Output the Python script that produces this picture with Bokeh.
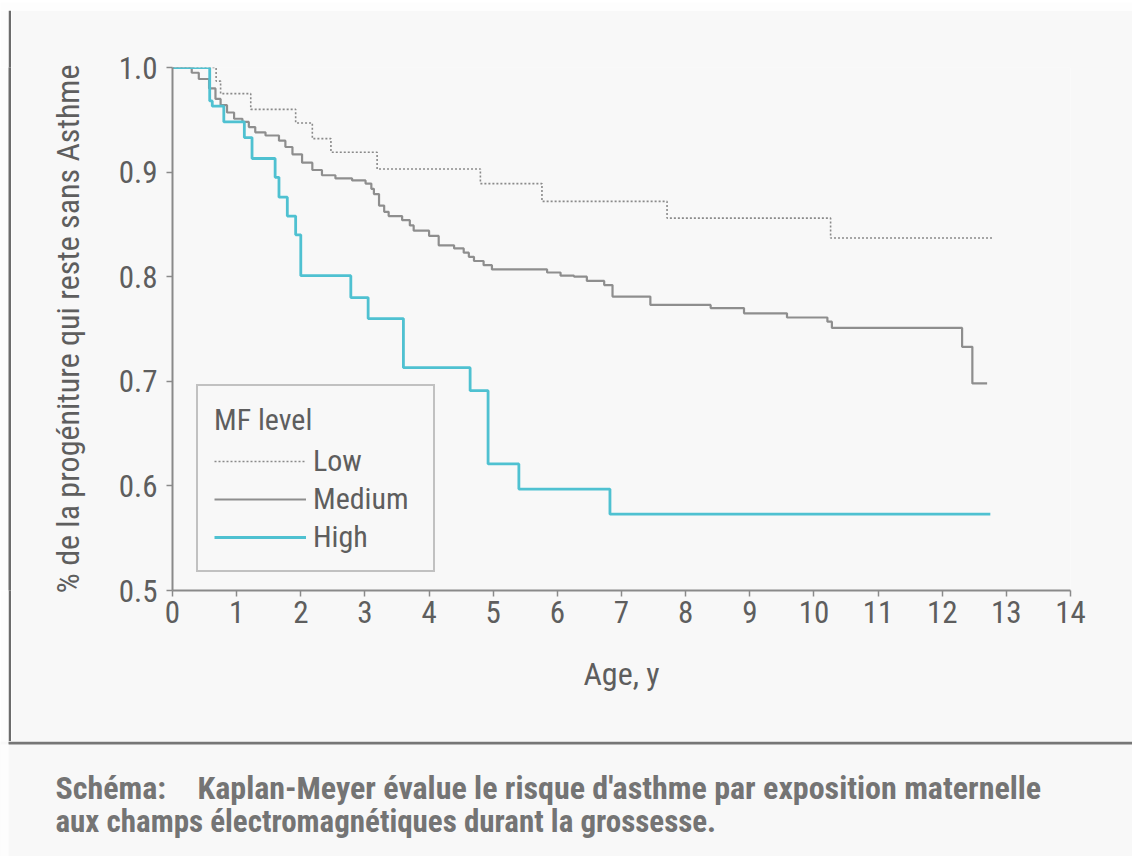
from bokeh.plotting import figure
from bokeh.layouts import column, row
from bokeh.models import (Legend, LegendItem, Label, Range1d, BoxAnnotation,
                          FixedTicker, NumeralTickFormatter)
from bokeh.embed import file_html
from bokeh.resources import INLINE

# ---------------- data ----------------
low_t = [0, 0.68, 0.75, 1.22, 1.92, 2.18, 2.47, 3.19, 4.80, 5.76, 7.71, 10.26]
low_s = [1.0, 0.987, 0.975, 0.960, 0.947, 0.932, 0.919, 0.903, 0.889, 0.872, 0.856, 0.837]
low_end = 12.78

med_t = [0, 0.30, 0.41, 0.57, 0.67, 0.75, 0.85, 0.96, 1.09, 1.19, 1.29, 1.45, 1.66,
         1.76, 1.87, 2.02, 2.18, 2.33, 2.54, 2.80, 3.01, 3.10, 3.14, 3.22, 3.30,
         3.37, 3.58, 3.70, 3.76, 4.00, 4.15, 4.39, 4.54, 4.62, 4.70, 4.85, 4.98,
         5.84, 6.05, 6.26, 6.46, 6.73, 6.86, 7.45, 8.39, 8.91, 9.58, 10.21, 10.28,
         12.31, 12.47]
med_s = [1.0, 0.995, 0.989, 0.980, 0.970, 0.964, 0.957, 0.951, 0.948, 0.943, 0.938,
         0.935, 0.930, 0.924, 0.917, 0.909, 0.902, 0.897, 0.894, 0.892, 0.889, 0.884,
         0.879, 0.868, 0.862, 0.858, 0.854, 0.849, 0.844, 0.839, 0.830, 0.827, 0.823,
         0.819, 0.815, 0.811, 0.807, 0.804, 0.801, 0.800, 0.796, 0.792, 0.781, 0.773,
         0.770, 0.765, 0.761, 0.757, 0.751, 0.733, 0.698]
med_end = 12.70

high_t = [0, 0.58, 0.62, 0.80, 1.12, 1.24, 1.60, 1.66, 1.79, 1.92, 2.00, 2.78,
          3.05, 3.60, 4.64, 4.92, 5.40, 6.82]
high_s = [1.0, 0.968, 0.963, 0.948, 0.933, 0.913, 0.895, 0.876, 0.858, 0.840, 0.801,
          0.780, 0.760, 0.713, 0.691, 0.621, 0.597, 0.573]
high_end = 12.75

x_ticks = list(range(0, 15))
y_ticks = [0.5, 0.6, 0.7, 0.8, 0.9, 1.0]

series_names = ["Low", "Medium", "High"]
legend_title = "MF level"
x_label = "Age, y"
y_label = "% de la progéniture qui reste sans Asthme"
caption_head = "Schéma:"
caption_1 = "Kaplan-Meyer évalue le risque d'asthme par exposition maternelle"
caption_2 = "aux champs électromagnétiques durant la grossesse."

# ---------------- styling ----------------
FONT = "Roboto Condensed"
BG = "#f8f8f8"
WHITE = "#fdfdfd"
AXIS = "#8a8a8a"
TXT = "#5e5e5e"

W = 1132          # total width
LM = 11           # white margin + dark border on the left

p = figure(width=W - LM, height=731, x_range=Range1d(0, 14), y_range=Range1d(0.5, 1.0),
           output_backend="svg", toolbar_location=None, title=None,
           min_border_left=161, min_border_right=62, min_border_top=57,
           min_border_bottom=151)
p.background_fill_color = BG
p.border_fill_color = BG
p.outline_line_color = None
p.xgrid.visible = False
p.ygrid.visible = False

r_low = p.step(low_t + [low_end], low_s + [low_s[-1]], mode="after",
               line_color="#8a8a8a", line_width=1.6, line_dash="2 2")
r_med = p.step(med_t + [med_end], med_s + [med_s[-1]], mode="after",
               line_color="#8e8e8e", line_width=2.2)
r_high = p.step(high_t + [high_end], high_s + [high_s[-1]], mode="after",
                line_color="#4fc1d1", line_width=2.8)

for ax in (p.xaxis[0], p.yaxis[0]):
    ax.axis_line_color = AXIS
    ax.axis_line_width = 2
    ax.major_tick_line_color = AXIS
    ax.major_tick_line_width = 1.5
    ax.major_tick_out = 6
    ax.major_tick_in = 0
    ax.minor_tick_line_color = None
    ax.major_label_text_font = FONT
    ax.major_label_text_font_size = "31px"
    ax.major_label_text_color = TXT
    ax.axis_label_text_font = FONT
    ax.axis_label_text_font_size = "32px"
    ax.axis_label_text_font_style = "normal"
    ax.axis_label_text_color = TXT

p.xaxis.ticker = FixedTicker(ticks=x_ticks)
p.yaxis.ticker = FixedTicker(ticks=y_ticks)
p.yaxis.formatter = NumeralTickFormatter(format="0.0")
p.xaxis.major_label_standoff = 4
p.yaxis.major_label_standoff = 9
p.xaxis.axis_label = x_label
p.yaxis.axis_label = y_label
p.xaxis.axis_label_standoff = 29
p.yaxis.axis_label_standoff = 29

legend = Legend(items=[LegendItem(label=series_names[0], renderers=[r_low]),
                       LegendItem(label=series_names[1], renderers=[r_med]),
                       LegendItem(label=series_names[2], renderers=[r_high])],
                title=legend_title, location=(24, 18))
legend.title_text_font = FONT
legend.title_text_font_size = "30px"
legend.title_text_font_style = "normal"
legend.title_text_color = TXT
legend.title_standoff = 6
legend.label_text_font = FONT
legend.label_text_font_size = "30px"
legend.label_text_color = TXT
legend.glyph_width = 92
legend.glyph_height = 20
legend.label_standoff = 7
legend.label_width = 104
legend.spacing = 3
legend.padding = 16
legend.margin = 0
legend.border_line_color = "#8a8a8a"
legend.border_line_width = 2
legend.background_fill_color = BG
legend.background_fill_alpha = 1
p.add_layout(legend)


def plain(width, height, color, yr):
    b = figure(width=width, height=height, output_backend="svg", toolbar_location=None,
               title=None, x_range=Range1d(0, width), y_range=Range1d(0, yr),
               min_border_left=0, min_border_right=0, min_border_top=0,
               min_border_bottom=0, x_axis_location=None, y_axis_location=None)
    b.grid.visible = False
    b.outline_line_color = None
    b.background_fill_color = color
    b.border_fill_color = color
    return b


# top strip: white with a faint grey rule at its bottom
top = plain(W, 10, WHITE, 10)
top.add_layout(BoxAnnotation(left=0, right=W, bottom=0, top=2, fill_color="#e0e0e0",
                             fill_alpha=1, line_alpha=0))

left_white = plain(8, 731, WHITE, 1)
left_line = plain(3, 731, "#6c6c6c", 1)

# caption strip, with the dark rule closing the chart box at its top
CH = 115
cap = plain(W, CH, BG, CH)
cap.add_layout(BoxAnnotation(left=8, right=W, bottom=CH - 3, top=CH, fill_color="#767676",
                             fill_alpha=1, line_alpha=0))
cap.add_layout(BoxAnnotation(left=0, right=8, bottom=0, top=CH - 3, fill_color=WHITE,
                             fill_alpha=1, line_alpha=0))
for txt, xx, yy, fs in [(caption_head, 55, 69, "32px"), (caption_1, 197, 69, "32px"),
                        (caption_2, 55, 35, "31px")]:
    cap.add_layout(Label(x=xx, y=yy, text=txt,
                         text_font=FONT, text_font_size=fs, text_font_style="bold",
                         text_color="#747474", text_baseline="middle"))

layout = column(top, row(left_white, left_line, p), cap)

open("out.html", "w").write(file_html(layout, INLINE))
